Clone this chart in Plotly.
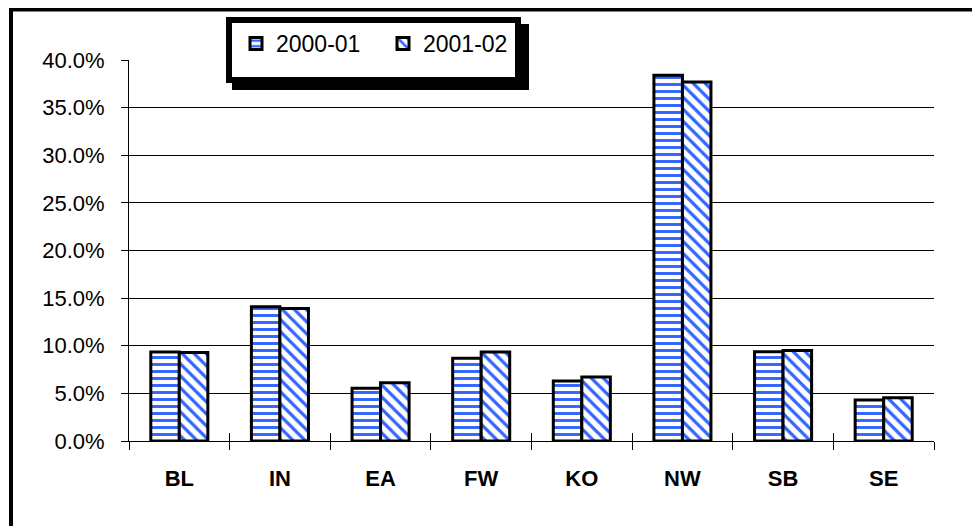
import plotly.graph_objects as go

categories = ["BL", "IN", "EA", "FW", "KO", "NW", "SB", "SE"]
series_names = ["2000-01", "2001-02"]
values_2000_01 = [0.0934, 0.141, 0.0553, 0.0868, 0.063, 0.384, 0.0938, 0.043]
values_2001_02 = [0.093, 0.139, 0.0612, 0.0934, 0.0672, 0.377, 0.095, 0.0455]
y_tick_values = [0, 0.05, 0.10, 0.15, 0.20, 0.25, 0.30, 0.35, 0.40]

BLUE = "#3366FF"
FONT = "Liberation Sans, Arial, sans-serif"

# page body has an 8px default margin, so compensate
OFF = 8
# target plot area in page pixels
L, R, T, B = 129, 934, 60, 441
W, H = 980, 526
pw, ph = R - L, B - T


def px(x):
    return (x - L) / pw


def py(y):
    return (B - y) / ph


fig = go.Figure()
fig.add_trace(go.Bar(
    x=categories, y=values_2000_01, name=series_names[0],
    marker=dict(color="white", line=dict(color="black", width=3),
                pattern=dict(shape="-", fgcolor=BLUE, bgcolor="white", fgopacity=1,
                             size=7, solidity=0.42, fillmode="overlay")),
))
fig.add_trace(go.Bar(
    x=categories, y=values_2001_02, name=series_names[1],
    marker=dict(color="white", line=dict(color="black", width=3),
                pattern=dict(shape="\\", fgcolor=BLUE, bgcolor="white", fgopacity=1,
                             size=8.5, solidity=0.38, fillmode="overlay")),
))
# helper trace for the inner half of the crossing category ticks
fig.add_trace(go.Scatter(
    x=categories, y=[0] * len(categories), xaxis="x2", yaxis="y",
    mode="markers", marker=dict(opacity=0), showlegend=False, hoverinfo="skip",
))

shapes = [
    dict(type="rect", xref="paper", yref="paper",
         x0=px(11), x1=px(974), y0=py(9.5), y1=py(545),
         line=dict(color="black", width=4), fillcolor="rgba(0,0,0,0)", layer="above"),
    dict(type="rect", xref="paper", yref="paper",
         x0=px(232), x1=px(529), y0=py(24), y1=py(90),
         line=dict(width=0), fillcolor="black", layer="above"),
    dict(type="rect", xref="paper", yref="paper",
         x0=px(229), x1=px(518), y0=py(20), y1=py(80),
         line=dict(color="black", width=6), fillcolor="white", layer="above"),
]

fig.update_layout(
    width=W, height=H,
    margin=dict(l=L - OFF, r=W - R + OFF, t=T - OFF, b=H - B + OFF, pad=0),
    paper_bgcolor="white", plot_bgcolor="white",
    barmode="group", bargap=0.433, bargroupgap=0,
    font=dict(family=FONT, color="black", size=22),
    shapes=shapes,
    showlegend=True,
    legend=dict(orientation="h", x=px(236), y=py(22), xanchor="left", yanchor="top",
                bgcolor="rgba(0,0,0,0)", borderwidth=0,
                font=dict(family=FONT, size=23, color="black"),
                itemwidth=30, entrywidth=102, traceorder="normal"),
    xaxis=dict(type="category", range=[-0.5, 7.5], showline=True, linecolor="black", linewidth=1,
               ticks="outside", ticklen=8, tickcolor="black", tickson="boundaries",
               tickfont=dict(family=FONT, size=22, color="black", weight="bold"),
               ticklabelstandoff=18, showgrid=False, zeroline=False, fixedrange=True),
    xaxis2=dict(type="category", range=[-0.5, 7.5], overlaying="x", anchor="y", side="bottom",
                ticks="inside", ticklen=8, tickcolor="black", tickson="boundaries",
                showticklabels=False, showgrid=False, showline=False, zeroline=False,
                fixedrange=True),
    yaxis=dict(range=[0, 0.40], tickvals=y_tick_values, tickformat=".1%",
               showline=True, linecolor="black", linewidth=1,
               ticks="outside", ticklen=7, tickcolor="black",
               showgrid=True, gridcolor="black", gridwidth=1, zeroline=False,
               tickfont=dict(family=FONT, size=22, color="black"),
               ticklabelstandoff=12, fixedrange=True),
)

fig.write_html("out.html")
